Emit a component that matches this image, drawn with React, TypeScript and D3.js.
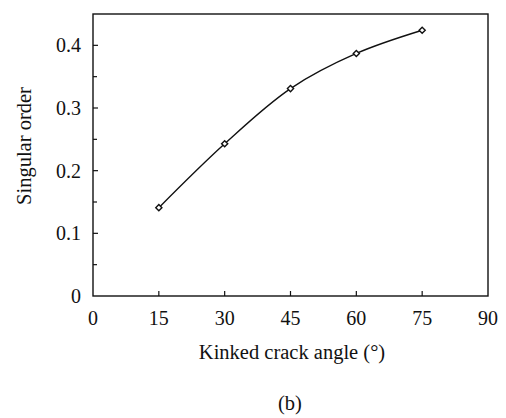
import React from 'react';
import * as d3 from 'd3';

// data
const angles = [15, 30, 45, 60, 75];
const singularOrder = [0.141, 0.243, 0.331, 0.387, 0.424];
const xTicks = [0, 15, 30, 45, 60, 75, 90];
const yTicks = [0, 0.1, 0.2, 0.3, 0.4];
const yMinorTicks = [0.05, 0.15, 0.25, 0.35];

const W = 506;
const H = 418;
const margin = { top: 14, right: 18, bottom: 122, left: 93 };
const serif = 'Liberation Serif, Times New Roman, DejaVu Serif, serif';
const tickStyle = { fontFamily: serif, fontSize: 20 };
const labelStyle = { fontFamily: serif, fontSize: 20.5 };

const App = () => {
  const x = d3.scaleLinear().domain([0, 90]).range([margin.left, W - margin.right]);
  const y = d3.scaleLinear().domain([0, 0.45]).range([H - margin.bottom, margin.top]);

  const pts: [number, number][] = angles.map((a, i) => [a, singularOrder[i]]);
  const line = d3
    .line<[number, number]>()
    .x(d => x(d[0]))
    .y(d => y(d[1]))
    .curve(d3.curveCatmullRom);

  const diamond = d3.symbol().type(d3.symbolDiamond2 || d3.symbolDiamond).size(24)();

  const x0 = x(0);
  const x1 = x(90);
  const y0 = y(0);
  const y1 = y(0.45);

  return (
    <svg width={W} height={H} style={{ position: 'absolute', left: 0, top: 0, background: '#fff' }}>
      {/* frame */}
      <rect x={x0} y={y1} width={x1 - x0} height={y0 - y1} fill="none" stroke="#111" strokeWidth={1.4} />

      {/* y ticks */}
      {yTicks.map(t => (
        <g key={'y' + t}>
          {t > 0 && <line x1={x0} x2={x0 + 5} y1={y(t)} y2={y(t)} stroke="#111" strokeWidth={1.2} />}
          <text x={x0 - 12} y={y(t)} dy="0.35em" textAnchor="end" style={tickStyle} fill="#111">
            {t === 0 ? '0' : t.toFixed(1)}
          </text>
        </g>
      ))}
      {yMinorTicks.map(t => (
        <line key={'ym' + t} x1={x0} x2={x0 + 4} y1={y(t)} y2={y(t)} stroke="#111" strokeWidth={1.2} />
      ))}

      {/* x ticks */}
      {xTicks.map(t => (
        <g key={'x' + t}>
          {t > 0 && t < 90 && <line x1={x(t)} x2={x(t)} y1={y0} y2={y0 - 5} stroke="#111" strokeWidth={1.2} />}
          <text x={x(t)} y={y0 + 29} textAnchor="middle" style={tickStyle} fill="#111">
            {t}
          </text>
        </g>
      ))}

      {/* curve */}
      <path d={line(pts) || ''} fill="none" stroke="#111" strokeWidth={1.4} />
      {pts.map(p => (
        <path
          key={'m' + p[0]}
          d={diamond || ''}
          transform={`translate(${x(p[0])},${y(p[1])})`}
          fill="#fff"
          stroke="#111"
          strokeWidth={1.4}
        />
      ))}

      {/* labels */}
      <text transform="translate(31,146) rotate(-90)" textAnchor="middle" style={labelStyle} fill="#111">
        Singular order
      </text>
      <text x={292} y={359} textAnchor="middle" style={labelStyle} fill="#111">
        Kinked crack angle (°)
      </text>
      <text x={290} y={410} textAnchor="middle" style={labelStyle} fill="#111">
        (b)
      </text>
    </svg>
  );
};

export default App;
